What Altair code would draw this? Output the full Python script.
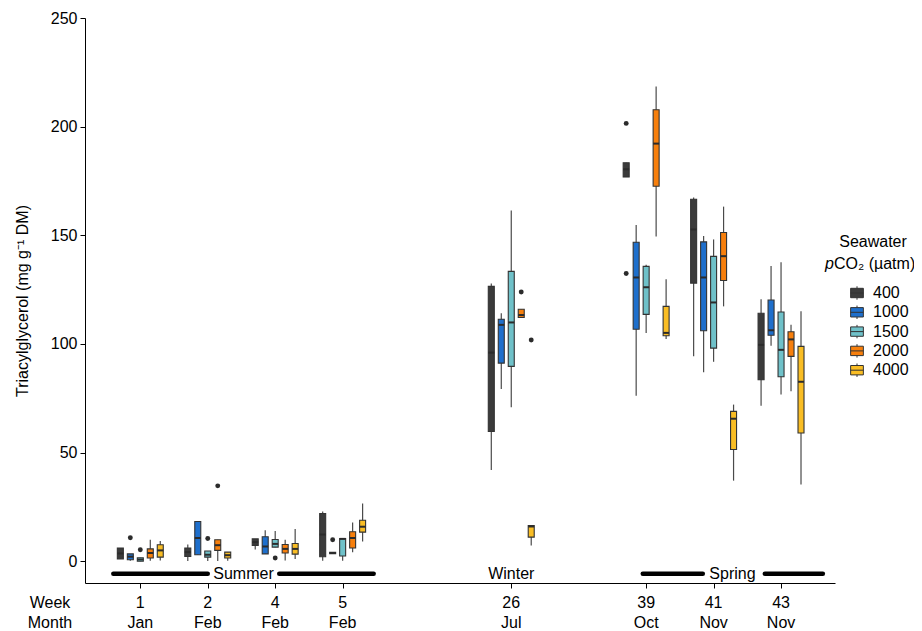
import altair as alt
import pandas as pd

# ---------------- data ----------------
weeks = [1, 2, 4, 5, 26, 39, 41, 43]
months = ["Jan", "Feb", "Feb", "Feb", "Jul", "Oct", "Nov", "Nov"]
slots = [0, 1, 2, 3, 5.5, 7.5, 8.5, 9.5]          # axis position of each sampling week
levels = ["400", "1000", "1500", "2000", "4000"]
colors = ["#3b3b3b", "#1e6fcc", "#6fc1c9", "#f77f0c", "#f9bd24"]

# box-plot statistics per pCO2 level, in week order
lo = {
    "400":  [1.1, 0.1, 5.4, 0.2, 42.0, 176.8, 94.3, 71.6],
    "1000": [0.2, 3.0, 3.4, 3.5, 79.3, 76.2, 87.0, 99.2],
    "1500": [0.0, 0.1, 6.5, 0.2, 70.9, 105.0, 91.8, 76.8],
    "2000": [0.2, 0.1, 0.4, 4.2, 112.2, 149.4, 117.3, 78.2],
    "4000": [0.4, 0.2, 1.1, 9.1, 7.3, 102.3, 37.1, 35.3],
}
q1 = {
    "400":  [1.1, 2.2, 7.3, 2.1, 59.7, 176.8, 128.0, 83.5],
    "1000": [0.7, 3.0, 3.4, 3.5, 91.2, 106.8, 106.1, 104.0],
    "1500": [0.0, 1.9, 6.5, 2.4, 89.7, 113.6, 98.1, 84.9],
    "2000": [1.5, 5.0, 3.8, 6.1, 112.2, 172.6, 129.2, 94.3],
    "4000": [1.9, 1.5, 3.3, 13.4, 11.1, 103.8, 51.4, 59.0],
}
med = {
    "400":  [3.6, 4.2, 8.8, 12.3, 96.0, 180.4, 152.7, 99.6],
    "1000": [2.1, 10.7, 6.8, 3.8, 108.8, 130.6, 130.6, 106.3],
    "1500": [0.8, 3.0, 8.0, 10.3, 109.9, 126.1, 119.1, 97.3],
    "2000": [3.8, 7.4, 5.7, 10.7, 113.3, 192.2, 140.4, 102.1],
    "4000": [5.0, 2.8, 5.7, 15.9, 16.0, 105.1, 65.6, 82.6],
}
q3 = {
    "400":  [6.1, 6.1, 10.3, 22.0, 126.5, 183.4, 166.6, 114.1],
    "1000": [3.4, 18.3, 11.3, 4.1, 111.4, 146.8, 147.0, 120.2],
    "1500": [1.6, 4.7, 10.0, 10.5, 133.4, 135.7, 140.3, 114.7],
    "2000": [5.7, 9.9, 7.7, 13.6, 116.0, 207.8, 151.3, 105.6],
    "4000": [7.6, 4.2, 8.2, 18.9, 16.4, 117.3, 69.0, 98.9],
}
hi = {
    "400":  [6.1, 7.7, 10.3, 22.9, 127.8, 183.4, 167.4, 120.6],
    "1000": [3.4, 18.3, 14.3, 4.1, 114.1, 154.8, 149.7, 135.9],
    "1500": [1.6, 4.7, 13.9, 10.5, 161.4, 136.5, 148.1, 137.6],
    "2000": [9.9, 9.9, 9.9, 17.8, 116.0, 218.5, 163.2, 108.8],
    "4000": [9.3, 4.2, 14.8, 26.6, 16.4, 129.8, 72.1, 115.0],
}

out_week = [1, 1, 2, 2, 4, 5, 26, 26, 39, 39]
out_level = ["1000", "1500", "1500", "2000", "1500", "1000", "2000", "4000", "400", "400"]
out_value = [10.8, 5.3, 10.5, 34.7, 1.5, 9.9, 123.9, 101.8, 201.5, 132.4]

seasons = ["Summer", "Winter", "Spring"]
season_x = [1.53, 5.5, 8.78]
season_bar_start = [-0.4, 2.06, 7.45, 9.26]
season_bar_end = [1.0, 3.46, 8.34, 10.12]
season_y = -5.8

# ---------------- tables ----------------
DODGE = 0.148
slot_of = dict(zip(weeks, slots))

rows = []
for i, lev in enumerate(levels):
    for j, w in enumerate(weeks):
        rows.append(dict(week=w, level=lev, x=slots[j] + (i - 2) * DODGE,
                         lo=lo[lev][j], q1=q1[lev][j], med=med[lev][j],
                         q3=q3[lev][j], hi=hi[lev][j]))
box = pd.DataFrame(rows)

out = pd.DataFrame(dict(week=out_week, level=out_level, value=out_value))
out["x"] = [slot_of[w] + (levels.index(l) - 2) * DODGE for w, l in zip(out_week, out_level)]

ticks = pd.DataFrame(dict(slot=slots, week=[str(w) for w in weeks], month=months))
seas = pd.DataFrame(dict(label=seasons, x=season_x, y=[season_y] * len(seasons)))
bars = pd.DataFrame(dict(x=season_bar_start, x2=season_bar_end, y=[season_y] * 4))

# ---------------- chart ----------------
FONT = "Liberation Sans"
FS = 16
xscale = alt.Scale(domain=[-0.82, 10.3], nice=False, zero=False, padding=0)
yscale = alt.Scale(domain=[-10, 250], nice=False, zero=False, padding=0)

xax = alt.Axis(values=slots, labels=False, title=None, grid=False, tickSize=5,
               domainColor="black", tickColor="black", domainWidth=1)
yax = alt.Axis(values=[0, 50, 100, 150, 200, 250], title="Triacylglycerol (mg g⁻¹ DM)",
               grid=False, tickSize=5, domainColor="black", tickColor="black",
               labelFontSize=FS, labelColor="black", titleFontSize=FS,
               titleFontWeight="normal", titleColor="black", titlePadding=20,
               labelPadding=3)

legend_path = ("M-0.95,-0.7H0.95V0.7H-0.95Z M-0.95,0H0.95 "
               "M0,-1V-0.7 M0,0.7V1")

base = alt.Chart(box)

whisk = base.mark_rule(color="#4a4a4a", strokeWidth=1.2).encode(
    x=alt.X("x:Q", scale=xscale, axis=xax),
    y=alt.Y("lo:Q", scale=yscale, axis=yax),
    y2="hi:Q",
)

boxes = base.mark_bar(size=6, stroke="#333333", strokeWidth=1.1).encode(
    x="x:Q",
    y="q1:Q",
    y2="q3:Q",
    color=alt.Color(
        "level:N",
        scale=alt.Scale(domain=levels, range=colors),
        legend=alt.Legend(
            title=None, orient="none", legendX=764, legendY=267,
            labelFontSize=FS, labelColor="black", symbolType=legend_path,
            symbolSize=180, symbolStrokeColor="#333333", symbolStrokeWidth=1,
            symbolOpacity=1, rowPadding=1.3, labelOffset=8,
        ),
    ),
)

medians = base.mark_tick(orient="horizontal", size=6, thickness=2, color="#2b2b2b",
                         opacity=1).encode(x="x:Q", y="med:Q")

points = alt.Chart(out).mark_circle(size=24, color="#2b2b2b", opacity=1).encode(
    x="x:Q", y="value:Q")

sbars = alt.Chart(bars).mark_rule(color="black", strokeWidth=4.5, strokeCap="round").encode(
    x="x:Q", x2="x2:Q", y="y:Q")

stext = alt.Chart(seas).mark_text(font=FONT, fontSize=FS, color="black",
                                  baseline="middle").encode(
    x="x:Q", y="y:Q", text="label:N")

wk = alt.Chart(ticks).mark_text(font=FONT, fontSize=FS, color="black",
                                baseline="middle").encode(
    x="slot:Q", y=alt.value(585), text="week:N")
mo = alt.Chart(ticks).mark_text(font=FONT, fontSize=FS, color="black",
                                baseline="middle").encode(
    x="slot:Q", y=alt.value(605), text="month:N")

hdr = pd.DataFrame(dict(label=["Week", "Month"], ypix=[585, 605]))
hdrs = alt.Chart(hdr).mark_text(font=FONT, fontSize=FS, color="black",
                                baseline="middle", align="center").encode(
    x=alt.value(-35), y=alt.Y("ypix:Q", scale=None), text="label:N")

# legend title (two lines, italic p)
lt1 = pd.DataFrame(dict(t=["Seawater"]))
lt_a = alt.Chart(lt1).mark_text(font=FONT, fontSize=FS, color="black", align="center",
                                baseline="middle").encode(
    x=alt.value(788), y=alt.value(224), text="t:N")
lt2 = pd.DataFrame(dict(t=["p"]))
lt_b = alt.Chart(lt2).mark_text(font=FONT, fontSize=FS, color="black", align="right",
                                baseline="middle", fontStyle="italic").encode(
    x=alt.value(749), y=alt.value(246), text="t:N")
lt3 = pd.DataFrame(dict(t=["CO₂ (µatm)"]))
lt_c = alt.Chart(lt3).mark_text(font=FONT, fontSize=FS, color="black", align="left",
                                baseline="middle").encode(
    x=alt.value(749), y=alt.value(246), text="t:N")

chart = alt.layer(whisk, boxes, medians, points, sbars, stext, wk, mo, hdrs,
                  lt_a, lt_b, lt_c).properties(
    width=750, height=565,
    autosize=alt.AutoSizeParams(type="none"),
    padding={"left": 77, "top": 10, "right": 79, "bottom": 47},
).configure(font=FONT).configure_view(stroke=None)

chart.save("out.html", embed_options={"renderer": "svg", "actions": False})
